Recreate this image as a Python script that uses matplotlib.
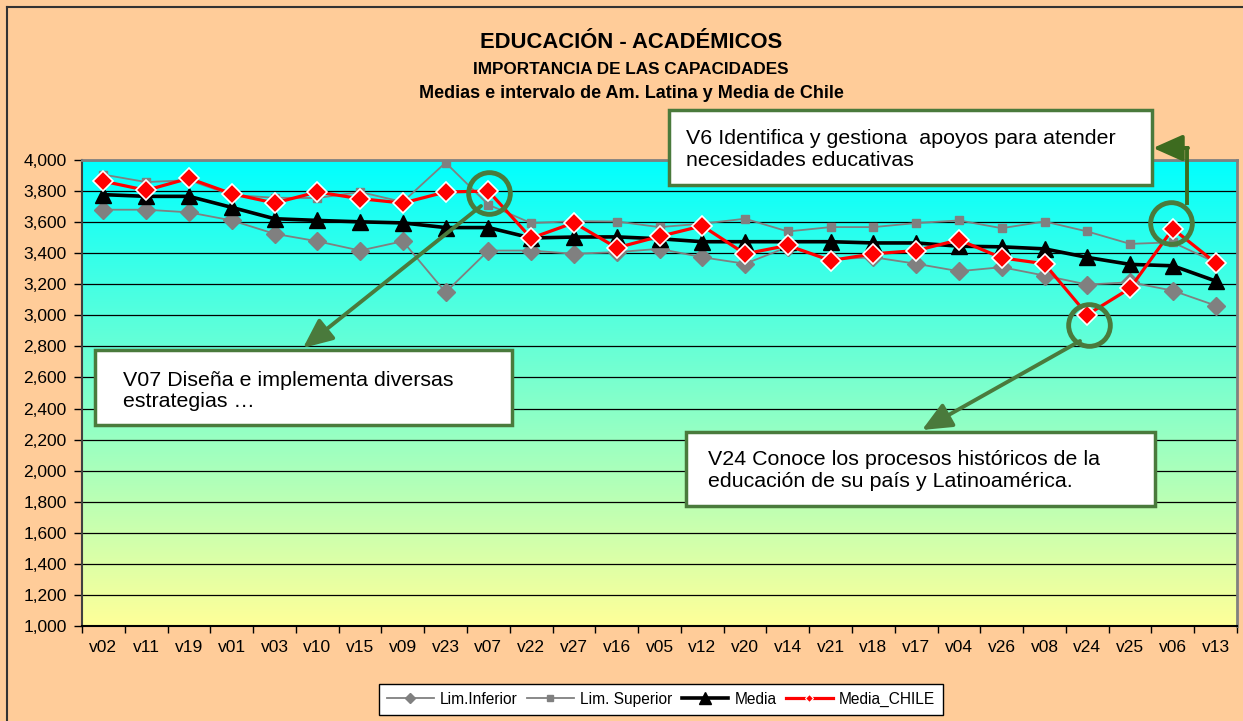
import numpy as np
import matplotlib
matplotlib.use("Agg")
import matplotlib.pyplot as plt
from matplotlib.colors import LinearSegmentedColormap
from matplotlib.lines import Line2D
from matplotlib.patches import Rectangle, FancyArrowPatch
from matplotlib.transforms import offset_copy

plt.rcParams['font.family'] = ['Liberation Sans', 'DejaVu Sans']

# datos (escala 1-5)
cats = ["v02", "v11", "v19", "v01", "v03", "v10", "v15", "v09", "v23", "v07",
        "v22", "v27", "v16", "v05", "v12", "v20", "v14", "v21", "v18", "v17",
        "v04", "v26", "v08", "v24", "v25", "v06", "v13"]
lim_inf = [3.680, 3.680, 3.663, 3.611, 3.525, 3.477, 3.417, 3.477, 3.148, 3.417,
           3.417, 3.396, 3.407, 3.428, 3.374, 3.332, 3.440, 3.360, 3.374, 3.332,
           3.284, 3.310, 3.256, 3.198, 3.213, 3.159, 3.063]
lim_sup = [3.906, 3.858, 3.870, 3.775, 3.757, 3.755, 3.794, 3.730, 3.983, 3.712,
           3.594, 3.606, 3.604, 3.568, 3.590, 3.622, 3.540, 3.568, 3.568, 3.594,
           3.611, 3.561, 3.604, 3.540, 3.460, 3.470, 3.340]
media = [3.777, 3.766, 3.766, 3.695, 3.622, 3.611, 3.602, 3.595, 3.565, 3.565,
         3.498, 3.504, 3.505, 3.493, 3.474, 3.474, 3.474, 3.474, 3.466, 3.466,
         3.445, 3.441, 3.428, 3.373, 3.328, 3.319, 3.221]
media_chile = [3.863, 3.805, 3.882, 3.783, 3.723, 3.794, 3.751, 3.723, 3.794, 3.800,
               3.497, 3.596, 3.435, 3.508, 3.576, 3.396, 3.450, 3.353, 3.396, 3.417,
               3.486, 3.370, 3.332, 3.004, 3.174, 3.557, 3.338]

W, H = 1243, 721
GREEN = "#4a7a3c"
PEACH = "#ffcc99"


def fx(x):
    return x / W


def fy(y):
    return 1 - y / H


fig = plt.figure(figsize=(W / 100, H / 100), dpi=100, facecolor=PEACH)
ax = fig.add_axes([fx(82), fy(626), (1237 - 82) / W, (626 - 160) / H])

x = np.arange(len(cats))

# fondo degradado del área de trazado
cmap = LinearSegmentedColormap.from_list("fondo", ["#00ffff", "#ffff99"])
ax.imshow(np.linspace(0, 1, 256).reshape(-1, 1), extent=[-0.5, len(cats) - 0.5, 1.0, 4.0],
          aspect="auto", cmap=cmap, zorder=0)

ax.plot(x, lim_inf, color="#808080", lw=1.3, marker="D", ms=9, mec="#808080", zorder=3)
ax.plot(x, lim_sup, color="#808080", lw=1.3, marker="s", ms=6, zorder=3)
ax.plot(x, media, color="black", lw=2.6, marker="^", ms=12, zorder=4)
ax.plot(x, media_chile, color="red", lw=2.3, marker="D", ms=10, mec="white", mew=1.2, zorder=5)

ax.set_xlim(-0.5, len(cats) - 0.5)
ax.set_ylim(1.0, 4.0)
yt = np.arange(1.0, 4.001, 0.2)
ax.set_yticks(yt)
ax.set_yticklabels([f"{v:,.3f}".replace(".", ",") for v in yt])
ax.yaxis.grid(True, color="black", lw=0.9)
ax.set_axisbelow(True)
ax.tick_params(axis="y", direction="out", length=6, width=1, pad=5, labelsize=12.5)

ax.set_xticks(np.arange(-0.5, len(cats), 1.0))
ax.set_xticklabels([])
ax.set_xticks(x, minor=True)
ax.set_xticklabels(cats, minor=True)
ax.tick_params(axis="x", which="major", direction="out", length=5, width=1)
ax.tick_params(axis="x", which="minor", length=0, pad=10, labelsize=12.5)

for s in ["top", "right"]:
    ax.spines[s].set_color("#808080")
    ax.spines[s].set_linewidth(2)
ax.spines["left"].set_color("#404040")
ax.spines["left"].set_linewidth(1.5)
ax.spines["bottom"].set_color("black")
ax.spines["bottom"].set_linewidth(1.5)

# títulos
fig.text(fx(631), fy(42), "EDUCACIÓN - ACADÉMICOS", ha="center", va="center",
         fontsize=15.8, weight="bold")
fig.text(fx(631), fy(69), "IMPORTANCIA DE LAS CAPACIDADES", ha="center", va="center",
         fontsize=12.3, weight="bold")
fig.text(fx(631), fy(93), "Medias e intervalo de Am. Latina y Media de Chile", ha="center",
         va="center", fontsize=13, weight="bold")

# círculos sobre los puntos destacados
for idx, dx, dy in [(9, 1, -2), (23, 2, -10), (25, -2, 6)]:
    tr = offset_copy(ax.transData, fig=fig, x=dx, y=dy, units="dots")
    ax.plot(idx, media_chile[idx], marker="o", ms=30, mfc="none", mec=GREEN, mew=3.5,
            transform=tr, clip_on=False, zorder=6)

# cuadros de texto
boxes = [
    ((669, 110, 1152, 185), (686, 149.5), "V6 Identifica y gestiona  apoyos para atender\nnecesidades educativas"),
    ((95, 350, 512, 425), (123, 391), "V07 Diseña e implementa diversas\nestrategias …"),
    ((686, 432, 1155, 506), (708, 470.5), "V24 Conoce los procesos históricos de la\neducación de su país y Latinoamérica."),
]
for (x0, y0, x1, y1), (tx, ty), txt in boxes:
    fig.add_artist(Rectangle((fx(x0), fy(y1)), (x1 - x0) / W, (y1 - y0) / H,
                             transform=fig.transFigure, fc="white", ec=GREEN, lw=2.5, zorder=7))
    fig.text(fx(tx), fy(ty), txt, ha="left", va="center",
             fontsize=15.4, linespacing=1.17, zorder=8)

# flechas
def arrow(p0, p1, color=GREEN):
    fig.add_artist(FancyArrowPatch((fx(p0[0]), fy(p0[1])), (fx(p1[0]), fy(p1[1])),
                                   transform=fig.transFigure, color=color, lw=2.8,
                                   arrowstyle="-|>,head_length=0.9,head_width=0.4",
                                   mutation_scale=20, shrinkA=0, shrinkB=0, zorder=9))

fig.add_artist(Line2D([fx(1187), fx(1187)], [fy(203), fy(148)], transform=fig.transFigure,
                      color="#3d6b1f", lw=2.8, zorder=9))
arrow((1188, 148), (1153, 148), color="#3d6b1f")
arrow((481, 206), (303, 348))
arrow((1080, 341), (922, 430))

# marco del gráfico
fig.add_artist(Line2D([fx(7), fx(7)], [fy(7), fy(721)], transform=fig.transFigure,
                      color="#333333", lw=1.5))
fig.add_artist(Line2D([fx(7), fx(1243)], [fy(7), fy(7)], transform=fig.transFigure,
                      color="#333333", lw=1.5))

# leyenda
handles = [
    Line2D([], [], color="#808080", lw=1.3, marker="D", ms=5),
    Line2D([], [], color="#808080", lw=1.3, marker="s", ms=5),
    Line2D([], [], color="black", lw=2.6, marker="^", ms=8),
    Line2D([], [], color="red", lw=2.3, marker="D", ms=4, mec="white", mew=0.8),
]
labels = ["Lim.Inferior", "Lim. Superior", "Media", "Media_CHILE"]
leg = fig.legend(handles, labels, loc="center", bbox_to_anchor=(fx(661), fy(699.5)), ncol=4,
                 frameon=True, fancybox=False, edgecolor="black", framealpha=1,
                 handlelength=3.0, columnspacing=0.6, handletextpad=0.4, borderpad=0.5,
                 fontsize=11.2)
leg.get_frame().set_linewidth(1)

fig.savefig("out.png", dpi=100, facecolor=PEACH)
